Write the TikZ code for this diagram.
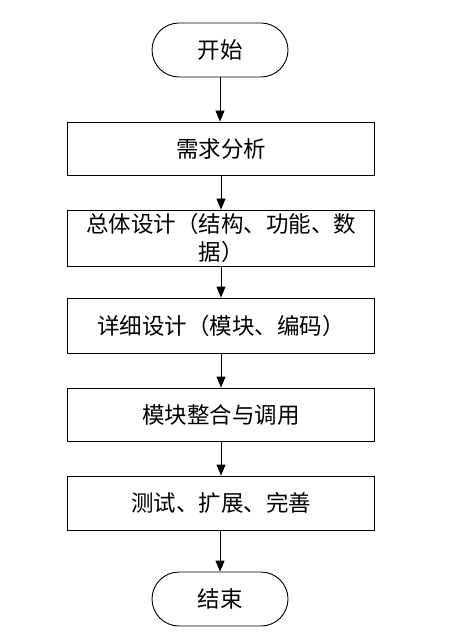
\documentclass[tikz,border=0pt]{standalone}
\usepackage{fontspec}
\newfontfamily\cjk{Noto Sans CJK SC}
\usetikzlibrary{arrows.meta}
\begin{document}
\begin{tikzpicture}[x=1pt,y=-1pt,
  every node/.style={font=\cjk\fontsize{22.5}{28}\selectfont, line width=0.9pt, draw=black, inner sep=0pt},
  term/.style={rectangle, rounded corners=27pt, minimum width=136pt, minimum height=54pt},
  proc/.style={rectangle, minimum width=307pt},
  arr/.style={line width=0.9pt, -{Triangle[length=11pt,width=9pt]}}]
\useasboundingbox (0,0) rectangle (475,636);
\node[term] (start) at (220,50) {开始};
\node[proc, minimum height=53pt] (b1) at (221,148.5) {需求分析};
\node[proc, minimum height=56pt, align=center] (b2) at (221,238) {总体设计（结构、功能、数\\据）};
\node[proc, minimum height=55pt] (b3) at (221,325.5) {详细设计（模块、编码）};
\node[proc, minimum height=53pt] (b4) at (221,414.5) {模块整合与调用};
\node[proc, minimum height=54pt] (b5) at (221,503) {测试、扩展、完善};
\node[term] (end) at (220,599) {结束};
\draw[arr] (start.south) -- (start.south |- b1.north);
\draw[arr] (b1.south) -- (b2.north);
\draw[arr] (b2.south) -- (b3.north);
\draw[arr] (b3.south) -- (b4.north);
\draw[arr] (b4.south) -- (b5.north);
\draw[arr] (b5.south -| end.north) -- (end.north);
\end{tikzpicture}
\end{document}
